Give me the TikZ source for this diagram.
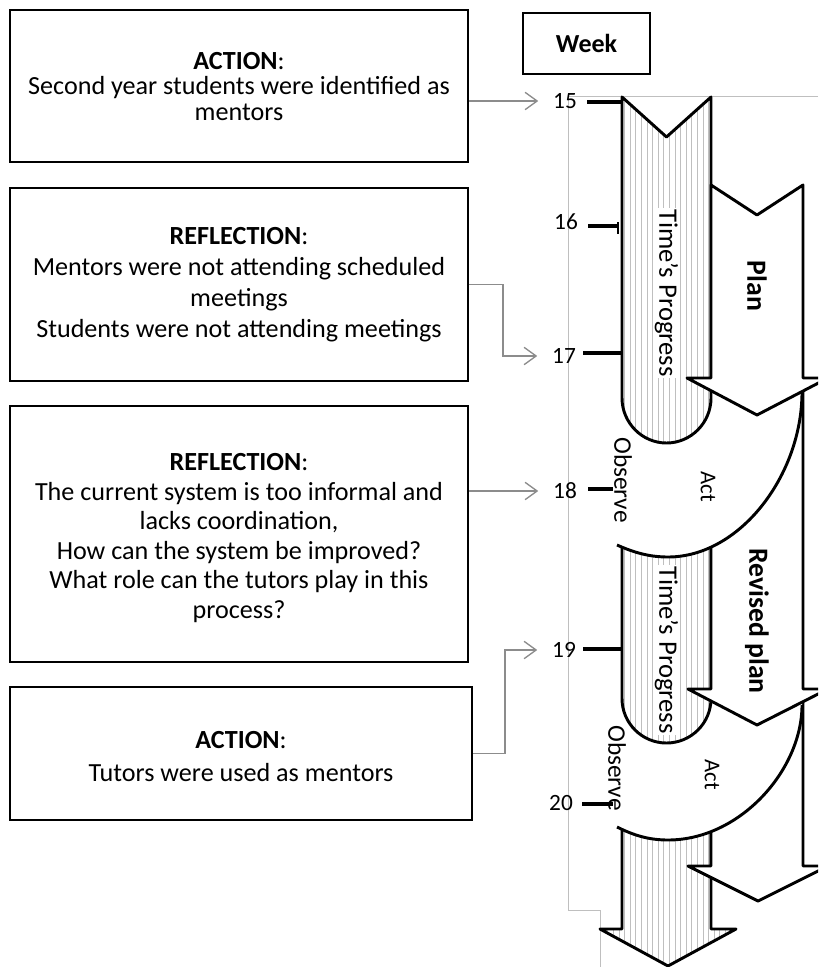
\documentclass[tikz,border=0pt]{standalone}
\usepackage{fontspec}
\setmainfont{Carlito}
\usetikzlibrary{arrows.meta}

% striped band: #1 path, #2 first stripe x, #3 stripe count, #4 top y, #5 bottom y
\newcommand\stripedpart[5]{%
  \fill[white] #1;
  \begin{scope}
    \clip #1;
    \foreach \k in {0,...,#3}
      \draw[stripe] ({#2+5.6*\k},#4) -- ({#2+5.6*\k},#5);
  \end{scope}
  \draw[outline] #1;
}

\begin{document}
\begin{tikzpicture}[x=0.75pt,y=-0.75pt,
  box/.style={draw=black,line width=1.4pt,fill=white,inner sep=0pt},
  boxtext/.style={align=center,inner sep=0pt,font=\fontsize{19.6}{#1}\selectfont},
  weeklabel/.style={font=\fontsize{17.5}{20}\selectfont,inner sep=2pt},
  outline/.style={draw=black,line width=2.2pt,line join=round},
  stripe/.style={draw=black!25,line width=0.5pt},
  conn/.style={draw=black!45,line width=1pt,-{Straight Barb[length=9pt,width=13pt,line width=1pt]},shorten >=9pt},
  tick/.style={draw=black,line width=3.6pt},
  frame/.style={draw=black!25,line width=0.75pt},
  vlabel/.style={rotate=-90,inner sep=1pt},
]
\clip (0,0) rectangle (818,967);
\fill[white] (0,0) rectangle (818,967);

% outline of the inserted picture
\draw[frame] (818,96) -- (568,96) -- (568,910) -- (600,910) -- (600,967);

% ---- cycle shapes, back to front ----
% third time band
\stripedpart{(622,810) -- (711,810) -- (711,929) -- (736,929) -- (668,966) -- (600,929) -- (622,929) -- cycle}{602.1}{24}{810}{967}
% third plan arrow
\filldraw[outline,fill=white] (711,690) -- (803,690) -- (803,866) -- (828,866) -- (758,901) -- (688,866) -- (711,866) -- cycle;
% second act band
\fill[white] (612,827) -- (617,827) .. controls (635,836) and (650,840) .. (668,840)
  .. controls (740,840) and (802,770) .. (802,705) -- (802,650) -- (612,650) -- cycle;
\draw[outline] (617,827) .. controls (635,836) and (650,840) .. (668,840)
  .. controls (740,840) and (802,770) .. (802,705);
% second time band
\stripedpart{(622,530) -- (711,530) -- (711,698.5) .. controls (711,723.1) and (691.1,743) .. (666.5,743)
  .. controls (641.9,743) and (622,723.1) .. (622,698.5) -- cycle}{624.5}{15}{530}{745}
% revised plan arrow
\filldraw[outline,fill=white] (711,380) -- (803,380) -- (803,689) -- (828,689) -- (757,725) -- (688,689) -- (711,689) -- cycle;
% first act band
\fill[white] (612,545) -- (617,545) .. controls (635,553) and (650,557) .. (668,557)
  .. controls (740,557) and (802,475) .. (802,392) -- (802,360) -- (612,360) -- cycle;
\draw[outline] (617,545) .. controls (635,553) and (650,557) .. (668,557)
  .. controls (740,557) and (802,475) .. (802,392);
% first time band
\stripedpart{(622,97) -- (666.5,137) -- (711,97) -- (711,398) .. controls (711,422.6) and (691.1,443) .. (666.5,443)
  .. controls (641.9,443) and (622,422.6) .. (622,398) -- cycle}{624.5}{15}{97}{445}
% plan arrow
\filldraw[outline,fill=white] (711,185) -- (757,215) -- (803,185) -- (803,378) -- (828,378) -- (757,415) -- (687,378) -- (711,378) -- cycle;

% labels on the cycle
\node[vlabel,fill=white,font=\fontsize{20}{22}\selectfont] (tp1) at (666.5,293) {Time's Progress};
\node[vlabel,fill=white,font=\fontsize{20}{22}\selectfont] (tp2) at (666.5,650) {Time's Progress};
\node[vlabel,font=\bfseries\fontsize{20.8}{22}\selectfont] (plan) at (757,286) {Plan};
\node[vlabel,font=\bfseries\fontsize{20.8}{22}\selectfont] (rplan) at (757,621) {Revised plan};
\node[vlabel,font=\fontsize{17}{18}\selectfont] (act1) at (708,487) {Act};
\node[vlabel,font=\fontsize{17}{18}\selectfont] (act2) at (712,775) {Act};
\node[vlabel,font=\fontsize{19}{20}\selectfont] (obs1) at (623,480) {Observe};
\node[vlabel,font=\fontsize{19}{20}\selectfont] (obs2) at (617,768) {Observe};

% week scale
\node[box,minimum width=95.25pt,minimum height=45.75pt,font=\bfseries\fontsize{19.5}{22}\selectfont] (week) at (586.5,43.5) {Week};
\node[weeklabel] (w15) at (565,101) {15};
\node[weeklabel] (w16) at (566,222) {16};
\node[weeklabel] (w17) at (564,356) {17};
\node[weeklabel] (w18) at (565,491) {18};
\node[weeklabel] (w19) at (564,650) {19};
\node[weeklabel] (w20) at (561,803) {20};
\draw[tick] (587,102) -- (622,102);
\draw[tick] (588,226) -- (619,226);
\draw[black,line width=1.2pt] (618,222) -- (618,234);
\draw[tick] (583,353) -- (622,353);
\draw[tick] (588,489) -- (613,489);
\draw[tick] (583,649) -- (622,649);
\draw[tick] (582,804) -- (613,804);

% text boxes
\node[box,minimum width=343.5pt,minimum height=114pt] (box1) at (239,86) {};
\node[boxtext=19] (text1) at (239,86.5)
  {\textbf{ACTION}:\\Second year students were identified as\\mentors};
\node[box,minimum width=343.5pt,minimum height=144.75pt] (box2) at (239,284.5) {};
\node[boxtext=23.25] (text2) at (239,284.5)
  {\textbf{REFLECTION}:\\Mentors were not attending scheduled\\meetings\\Students were not attending meetings};
\node[box,minimum width=343.5pt,minimum height=192pt] (box3) at (239,534) {};
\node[boxtext=22.2] (text3) at (239,538)
  {\textbf{REFLECTION}:\\The current system is too informal and\\lacks coordination,\\How can the system be improved?\\What role can the tutors play in this\\process?};
\node[box,minimum width=346.5pt,minimum height=99.75pt] (box4) at (241,753.5) {};
\node[boxtext=24.75] (text4) at (241,756.5)
  {\textbf{ACTION}:\\Tutors were used as mentors};

% connectors from the boxes to the weeks
\draw[conn] (box1.east |- w15.west) -- (w15.west);
\draw[conn] (box2.east) -- ++(34,0) |- (w17.west);
\draw[conn] (box3.east |- w18.west) -- (w18.west);
\draw[conn] (box4.east) -- ++(32,0) |- (w19.west);
\end{tikzpicture}
\end{document}
